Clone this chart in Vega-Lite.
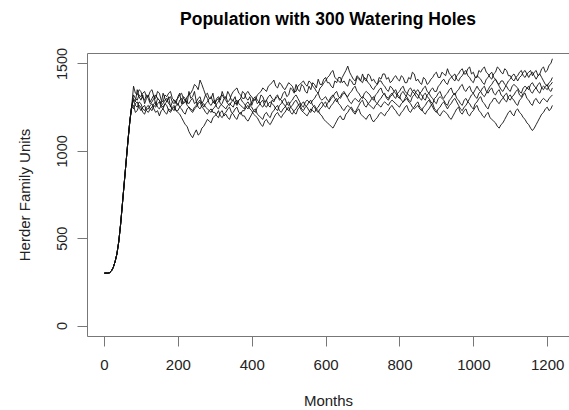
{
"$schema": "https://vega.github.io/schema/vega-lite/v6.json",
"width": 482, "height": 283,
"autosize": "none",
"padding": {"left": 87, "top": 53, "right": 0, "bottom": 74},
"background": "white",
"config": {"view": {"stroke": null}, "font": "Liberation Sans"},
"title": {"text": "Population with 300 Watering Holes", "fontSize": 17.5, "fontWeight": "bold", "font": "Liberation Sans", "color": "#000", "anchor": "middle", "baseline": "bottom", "offset": 27, "dy": 26},
"datasets": {"pop": [
{"s":"A","m":1,"v":300},{"s":"A","m":10,"v":300},{"s":"A","m":15,"v":302},{"s":"A","m":20,"v":312},{"s":"A","m":25,"v":332},{"s":"A","m":30,"v":365},{"s":"A","m":35,"v":410},{"s":"A","m":40,"v":480},{"s":"A","m":45,"v":580},{"s":"A","m":50,"v":700},{"s":"A","m":55,"v":820},{"s":"A","m":60,"v":940},{"s":"A","m":65,"v":1060},{"s":"A","m":70,"v":1170},{"s":"A","m":75,"v":1255},
{"s":"A","m":80,"v":1300},{"s":"A","m":90,"v":1350},{"s":"A","m":100,"v":1290},{"s":"A","m":110,"v":1270},{"s":"A","m":120,"v":1320},{"s":"A","m":130,"v":1300},{"s":"A","m":140,"v":1260},{"s":"A","m":150,"v":1290},{"s":"A","m":160,"v":1330},{"s":"A","m":170,"v":1280},
{"s":"A","m":180,"v":1250},{"s":"A","m":190,"v":1290},{"s":"A","m":200,"v":1310},{"s":"A","m":210,"v":1270},{"s":"A","m":220,"v":1300},{"s":"A","m":230,"v":1340},{"s":"A","m":240,"v":1310},{"s":"A","m":250,"v":1280},{"s":"A","m":260,"v":1310},{"s":"A","m":270,"v":1290},
{"s":"A","m":280,"v":1330},{"s":"A","m":290,"v":1300},{"s":"A","m":300,"v":1270},{"s":"A","m":310,"v":1310},{"s":"A","m":320,"v":1340},{"s":"A","m":330,"v":1300},{"s":"A","m":340,"v":1320},{"s":"A","m":350,"v":1290},{"s":"A","m":360,"v":1260},{"s":"A","m":370,"v":1300},
{"s":"A","m":380,"v":1330},{"s":"A","m":390,"v":1290},{"s":"A","m":400,"v":1260},{"s":"A","m":410,"v":1300},{"s":"A","m":420,"v":1280},{"s":"A","m":430,"v":1310},{"s":"A","m":440,"v":1290},{"s":"A","m":450,"v":1250},{"s":"A","m":460,"v":1280},{"s":"A","m":470,"v":1320},
{"s":"A","m":480,"v":1300},{"s":"A","m":490,"v":1340},{"s":"A","m":500,"v":1320},{"s":"A","m":510,"v":1350},{"s":"A","m":520,"v":1380},{"s":"A","m":530,"v":1340},{"s":"A","m":540,"v":1370},{"s":"A","m":550,"v":1330},{"s":"A","m":560,"v":1350},{"s":"A","m":570,"v":1380},
{"s":"A","m":580,"v":1410},{"s":"A","m":590,"v":1380},{"s":"A","m":600,"v":1420},{"s":"A","m":610,"v":1390},{"s":"A","m":620,"v":1360},{"s":"A","m":630,"v":1390},{"s":"A","m":640,"v":1420},{"s":"A","m":650,"v":1400},{"s":"A","m":660,"v":1370},{"s":"A","m":670,"v":1400},
{"s":"A","m":680,"v":1380},{"s":"A","m":690,"v":1410},{"s":"A","m":700,"v":1440},{"s":"A","m":710,"v":1400},{"s":"A","m":720,"v":1430},{"s":"A","m":730,"v":1410},{"s":"A","m":740,"v":1380},{"s":"A","m":750,"v":1410},{"s":"A","m":760,"v":1440},{"s":"A","m":770,"v":1420},
{"s":"A","m":780,"v":1400},{"s":"A","m":790,"v":1430},{"s":"A","m":800,"v":1400},{"s":"A","m":810,"v":1420},{"s":"A","m":820,"v":1390},{"s":"A","m":830,"v":1410},{"s":"A","m":840,"v":1440},{"s":"A","m":850,"v":1410},{"s":"A","m":860,"v":1380},{"s":"A","m":870,"v":1410},
{"s":"A","m":880,"v":1390},{"s":"A","m":890,"v":1420},{"s":"A","m":900,"v":1450},{"s":"A","m":910,"v":1420},{"s":"A","m":920,"v":1440},{"s":"A","m":930,"v":1470},{"s":"A","m":940,"v":1430},{"s":"A","m":950,"v":1400},{"s":"A","m":960,"v":1440},{"s":"A","m":970,"v":1470},
{"s":"A","m":980,"v":1440},{"s":"A","m":990,"v":1480},{"s":"A","m":1000,"v":1450},{"s":"A","m":1010,"v":1420},{"s":"A","m":1020,"v":1450},{"s":"A","m":1030,"v":1480},{"s":"A","m":1040,"v":1440},{"s":"A","m":1050,"v":1410},{"s":"A","m":1060,"v":1450},{"s":"A","m":1070,"v":1470},
{"s":"A","m":1080,"v":1440},{"s":"A","m":1090,"v":1460},{"s":"A","m":1100,"v":1430},{"s":"A","m":1110,"v":1400},{"s":"A","m":1120,"v":1430},{"s":"A","m":1130,"v":1460},{"s":"A","m":1140,"v":1420},{"s":"A","m":1150,"v":1450},{"s":"A","m":1160,"v":1430},{"s":"A","m":1170,"v":1460},
{"s":"A","m":1180,"v":1440},{"s":"A","m":1190,"v":1480},{"s":"A","m":1200,"v":1460},{"s":"A","m":1210,"v":1500},{"s":"A","m":1214,"v":1527},
{"s":"A","m":85,"v":1280},{"s":"A","m":95,"v":1310},{"s":"A","m":105,"v":1320},{"s":"A","m":115,"v":1300},{"s":"A","m":125,"v":1280},{"s":"A","m":135,"v":1320},{"s":"A","m":145,"v":1300},{"s":"A","m":155,"v":1270},{"s":"A","m":165,"v":1300},{"s":"A","m":175,"v":1310},
{"s":"A","m":185,"v":1280},{"s":"A","m":195,"v":1270},{"s":"A","m":205,"v":1330},{"s":"A","m":215,"v":1310},{"s":"A","m":225,"v":1270},{"s":"A","m":235,"v":1300},{"s":"A","m":245,"v":1340},{"s":"A","m":255,"v":1300},{"s":"A","m":265,"v":1270},{"s":"A","m":275,"v":1320},
{"s":"A","m":285,"v":1300},{"s":"A","m":295,"v":1330},{"s":"A","m":305,"v":1300},{"s":"A","m":315,"v":1290},{"s":"A","m":325,"v":1310},{"s":"A","m":335,"v":1340},{"s":"A","m":345,"v":1290},{"s":"A","m":355,"v":1310},{"s":"A","m":365,"v":1290},{"s":"A","m":375,"v":1340},
{"s":"A","m":385,"v":1300},{"s":"A","m":395,"v":1310},{"s":"A","m":405,"v":1290},{"s":"A","m":415,"v":1270},{"s":"A","m":425,"v":1320},{"s":"A","m":435,"v":1280},{"s":"A","m":445,"v":1260},{"s":"A","m":455,"v":1290},{"s":"A","m":465,"v":1310},{"s":"A","m":475,"v":1290},
{"s":"A","m":485,"v":1330},{"s":"A","m":495,"v":1310},{"s":"A","m":505,"v":1360},{"s":"A","m":515,"v":1330},{"s":"A","m":525,"v":1350},{"s":"A","m":535,"v":1380},{"s":"A","m":545,"v":1340},{"s":"A","m":555,"v":1370},{"s":"A","m":565,"v":1390},{"s":"A","m":575,"v":1360},
{"s":"A","m":585,"v":1380},{"s":"A","m":595,"v":1410},{"s":"A","m":605,"v":1390},{"s":"A","m":615,"v":1370},{"s":"A","m":625,"v":1400},{"s":"A","m":635,"v":1420},{"s":"A","m":645,"v":1390},{"s":"A","m":655,"v":1380},{"s":"A","m":665,"v":1410},{"s":"A","m":675,"v":1380},
{"s":"A","m":685,"v":1420},{"s":"A","m":695,"v":1400},{"s":"A","m":705,"v":1410},{"s":"A","m":715,"v":1440},{"s":"A","m":725,"v":1400},{"s":"A","m":735,"v":1390},{"s":"A","m":745,"v":1420},{"s":"A","m":755,"v":1440},{"s":"A","m":765,"v":1410},{"s":"A","m":775,"v":1390},
{"s":"A","m":785,"v":1420},{"s":"A","m":795,"v":1410},{"s":"A","m":805,"v":1430},{"s":"A","m":815,"v":1390},{"s":"A","m":825,"v":1420},{"s":"A","m":835,"v":1450},{"s":"A","m":845,"v":1400},{"s":"A","m":855,"v":1390},{"s":"A","m":865,"v":1420},{"s":"A","m":875,"v":1380},
{"s":"A","m":885,"v":1410},{"s":"A","m":895,"v":1440},{"s":"A","m":905,"v":1420},{"s":"A","m":915,"v":1450},{"s":"A","m":925,"v":1430},{"s":"A","m":935,"v":1440},{"s":"A","m":945,"v":1410},{"s":"A","m":955,"v":1430},{"s":"A","m":965,"v":1460},{"s":"A","m":975,"v":1440},
{"s":"A","m":985,"v":1470},{"s":"A","m":995,"v":1440},{"s":"A","m":1005,"v":1420},{"s":"A","m":1015,"v":1460},{"s":"A","m":1025,"v":1470},{"s":"A","m":1035,"v":1450},{"s":"A","m":1045,"v":1420},{"s":"A","m":1055,"v":1440},{"s":"A","m":1065,"v":1480},{"s":"A","m":1075,"v":1450},
{"s":"A","m":1085,"v":1470},{"s":"A","m":1095,"v":1430},{"s":"A","m":1105,"v":1410},{"s":"A","m":1115,"v":1420},{"s":"A","m":1125,"v":1450},{"s":"A","m":1135,"v":1430},{"s":"A","m":1145,"v":1440},{"s":"A","m":1155,"v":1460},{"s":"A","m":1165,"v":1450},{"s":"A","m":1175,"v":1430},
{"s":"A","m":1185,"v":1470},{"s":"A","m":1195,"v":1450},{"s":"A","m":1205,"v":1490},

{"s":"B","m":1,"v":300},{"s":"B","m":10,"v":300},{"s":"B","m":15,"v":302},{"s":"B","m":20,"v":312},{"s":"B","m":25,"v":332},{"s":"B","m":30,"v":365},{"s":"B","m":35,"v":410},{"s":"B","m":40,"v":480},{"s":"B","m":45,"v":580},{"s":"B","m":50,"v":700},{"s":"B","m":55,"v":820},{"s":"B","m":60,"v":940},{"s":"B","m":65,"v":1060},{"s":"B","m":70,"v":1170},{"s":"B","m":75,"v":1255},
{"s":"B","m":80,"v":1370},{"s":"B","m":90,"v":1320},{"s":"B","m":100,"v":1340},{"s":"B","m":110,"v":1290},{"s":"B","m":120,"v":1310},{"s":"B","m":130,"v":1350},{"s":"B","m":140,"v":1300},{"s":"B","m":150,"v":1330},{"s":"B","m":160,"v":1280},{"s":"B","m":170,"v":1310},
{"s":"B","m":180,"v":1340},{"s":"B","m":190,"v":1290},{"s":"B","m":200,"v":1260},{"s":"B","m":210,"v":1300},{"s":"B","m":220,"v":1280},{"s":"B","m":230,"v":1320},{"s":"B","m":240,"v":1350},{"s":"B","m":250,"v":1370},{"s":"B","m":260,"v":1405},{"s":"B","m":270,"v":1350},
{"s":"B","m":280,"v":1300},{"s":"B","m":290,"v":1260},{"s":"B","m":300,"v":1290},{"s":"B","m":310,"v":1240},{"s":"B","m":320,"v":1270},{"s":"B","m":330,"v":1310},{"s":"B","m":340,"v":1290},{"s":"B","m":350,"v":1340},{"s":"B","m":360,"v":1360},{"s":"B","m":370,"v":1320},
{"s":"B","m":380,"v":1300},{"s":"B","m":390,"v":1340},{"s":"B","m":400,"v":1310},{"s":"B","m":410,"v":1290},{"s":"B","m":420,"v":1330},{"s":"B","m":430,"v":1360},{"s":"B","m":440,"v":1340},{"s":"B","m":450,"v":1380},{"s":"B","m":460,"v":1405},{"s":"B","m":470,"v":1360},
{"s":"B","m":480,"v":1380},{"s":"B","m":490,"v":1350},{"s":"B","m":500,"v":1390},{"s":"B","m":510,"v":1370},{"s":"B","m":520,"v":1340},{"s":"B","m":530,"v":1380},{"s":"B","m":540,"v":1400},{"s":"B","m":550,"v":1370},{"s":"B","m":560,"v":1390},{"s":"B","m":570,"v":1360},
{"s":"B","m":580,"v":1330},{"s":"B","m":590,"v":1370},{"s":"B","m":600,"v":1400},{"s":"B","m":610,"v":1430},{"s":"B","m":620,"v":1460},{"s":"B","m":630,"v":1410},{"s":"B","m":640,"v":1390},{"s":"B","m":650,"v":1440},{"s":"B","m":660,"v":1485},{"s":"B","m":670,"v":1430},
{"s":"B","m":680,"v":1400},{"s":"B","m":690,"v":1420},{"s":"B","m":700,"v":1390},{"s":"B","m":710,"v":1410},{"s":"B","m":720,"v":1380},{"s":"B","m":730,"v":1350},{"s":"B","m":740,"v":1380},{"s":"B","m":750,"v":1400},{"s":"B","m":760,"v":1370},{"s":"B","m":770,"v":1340},
{"s":"B","m":780,"v":1360},{"s":"B","m":790,"v":1330},{"s":"B","m":800,"v":1300},{"s":"B","m":810,"v":1340},{"s":"B","m":820,"v":1310},{"s":"B","m":830,"v":1280},{"s":"B","m":840,"v":1320},{"s":"B","m":850,"v":1350},{"s":"B","m":860,"v":1320},{"s":"B","m":870,"v":1290},
{"s":"B","m":880,"v":1330},{"s":"B","m":890,"v":1360},{"s":"B","m":900,"v":1340},{"s":"B","m":910,"v":1380},{"s":"B","m":920,"v":1410},{"s":"B","m":930,"v":1380},{"s":"B","m":940,"v":1420},{"s":"B","m":950,"v":1440},{"s":"B","m":960,"v":1400},{"s":"B","m":970,"v":1430},
{"s":"B","m":980,"v":1460},{"s":"B","m":990,"v":1420},{"s":"B","m":1000,"v":1390},{"s":"B","m":1010,"v":1430},{"s":"B","m":1020,"v":1410},{"s":"B","m":1030,"v":1380},{"s":"B","m":1040,"v":1420},{"s":"B","m":1050,"v":1450},{"s":"B","m":1060,"v":1410},{"s":"B","m":1070,"v":1380},
{"s":"B","m":1080,"v":1400},{"s":"B","m":1090,"v":1370},{"s":"B","m":1100,"v":1340},{"s":"B","m":1110,"v":1380},{"s":"B","m":1120,"v":1360},{"s":"B","m":1130,"v":1330},{"s":"B","m":1140,"v":1370},{"s":"B","m":1150,"v":1350},{"s":"B","m":1160,"v":1390},{"s":"B","m":1170,"v":1360},
{"s":"B","m":1180,"v":1330},{"s":"B","m":1190,"v":1370},{"s":"B","m":1200,"v":1350},{"s":"B","m":1210,"v":1380},{"s":"B","m":1214,"v":1393},
{"s":"B","m":85,"v":1330},{"s":"B","m":95,"v":1350},{"s":"B","m":105,"v":1300},{"s":"B","m":115,"v":1320},{"s":"B","m":125,"v":1340},{"s":"B","m":135,"v":1310},{"s":"B","m":145,"v":1340},{"s":"B","m":155,"v":1290},{"s":"B","m":165,"v":1320},{"s":"B","m":175,"v":1330},
{"s":"B","m":185,"v":1300},{"s":"B","m":195,"v":1280},{"s":"B","m":205,"v":1290},{"s":"B","m":215,"v":1270},{"s":"B","m":225,"v":1310},{"s":"B","m":235,"v":1330},{"s":"B","m":245,"v":1380},{"s":"B","m":255,"v":1350},{"s":"B","m":265,"v":1380},{"s":"B","m":275,"v":1320},
{"s":"B","m":285,"v":1270},{"s":"B","m":295,"v":1280},{"s":"B","m":305,"v":1250},{"s":"B","m":315,"v":1260},{"s":"B","m":325,"v":1300},{"s":"B","m":335,"v":1280},{"s":"B","m":345,"v":1320},{"s":"B","m":355,"v":1350},{"s":"B","m":365,"v":1330},{"s":"B","m":375,"v":1300},
{"s":"B","m":385,"v":1330},{"s":"B","m":395,"v":1320},{"s":"B","m":405,"v":1290},{"s":"B","m":415,"v":1320},{"s":"B","m":425,"v":1340},{"s":"B","m":435,"v":1350},{"s":"B","m":445,"v":1370},{"s":"B","m":455,"v":1390},{"s":"B","m":465,"v":1370},{"s":"B","m":475,"v":1390},
{"s":"B","m":485,"v":1360},{"s":"B","m":495,"v":1370},{"s":"B","m":505,"v":1380},{"s":"B","m":515,"v":1340},{"s":"B","m":525,"v":1370},{"s":"B","m":535,"v":1390},{"s":"B","m":545,"v":1380},{"s":"B","m":555,"v":1400},{"s":"B","m":565,"v":1370},{"s":"B","m":575,"v":1340},
{"s":"B","m":585,"v":1360},{"s":"B","m":595,"v":1390},{"s":"B","m":605,"v":1420},{"s":"B","m":615,"v":1450},{"s":"B","m":625,"v":1420},{"s":"B","m":635,"v":1400},{"s":"B","m":645,"v":1420},{"s":"B","m":655,"v":1460},{"s":"B","m":665,"v":1450},{"s":"B","m":675,"v":1410},
{"s":"B","m":685,"v":1430},{"s":"B","m":695,"v":1400},{"s":"B","m":705,"v":1420},{"s":"B","m":715,"v":1390},{"s":"B","m":725,"v":1360},{"s":"B","m":735,"v":1370},{"s":"B","m":745,"v":1400},{"s":"B","m":755,"v":1380},{"s":"B","m":765,"v":1350},{"s":"B","m":775,"v":1370},
{"s":"B","m":785,"v":1340},{"s":"B","m":795,"v":1310},{"s":"B","m":805,"v":1330},{"s":"B","m":815,"v":1320},{"s":"B","m":825,"v":1290},{"s":"B","m":835,"v":1310},{"s":"B","m":845,"v":1340},{"s":"B","m":855,"v":1330},{"s":"B","m":865,"v":1300},{"s":"B","m":875,"v":1320},
{"s":"B","m":885,"v":1350},{"s":"B","m":895,"v":1340},{"s":"B","m":905,"v":1370},{"s":"B","m":915,"v":1400},{"s":"B","m":925,"v":1390},{"s":"B","m":935,"v":1410},{"s":"B","m":945,"v":1430},{"s":"B","m":955,"v":1410},{"s":"B","m":965,"v":1420},{"s":"B","m":975,"v":1450},
{"s":"B","m":985,"v":1430},{"s":"B","m":995,"v":1400},{"s":"B","m":1005,"v":1420},{"s":"B","m":1015,"v":1420},{"s":"B","m":1025,"v":1390},{"s":"B","m":1035,"v":1410},{"s":"B","m":1045,"v":1440},{"s":"B","m":1055,"v":1420},{"s":"B","m":1065,"v":1390},{"s":"B","m":1075,"v":1400},
{"s":"B","m":1085,"v":1380},{"s":"B","m":1095,"v":1350},{"s":"B","m":1105,"v":1370},{"s":"B","m":1115,"v":1370},{"s":"B","m":1125,"v":1340},{"s":"B","m":1135,"v":1360},{"s":"B","m":1145,"v":1360},{"s":"B","m":1155,"v":1380},{"s":"B","m":1165,"v":1370},{"s":"B","m":1175,"v":1340},
{"s":"B","m":1185,"v":1360},{"s":"B","m":1195,"v":1360},{"s":"B","m":1205,"v":1370},

{"s":"C","m":1,"v":300},{"s":"C","m":10,"v":300},{"s":"C","m":15,"v":302},{"s":"C","m":20,"v":312},{"s":"C","m":25,"v":332},{"s":"C","m":30,"v":365},{"s":"C","m":35,"v":410},{"s":"C","m":40,"v":480},{"s":"C","m":45,"v":580},{"s":"C","m":50,"v":700},{"s":"C","m":55,"v":820},{"s":"C","m":60,"v":940},{"s":"C","m":65,"v":1060},{"s":"C","m":70,"v":1170},{"s":"C","m":75,"v":1255},
{"s":"C","m":80,"v":1260},{"s":"C","m":90,"v":1230},{"s":"C","m":100,"v":1250},{"s":"C","m":110,"v":1210},{"s":"C","m":120,"v":1240},{"s":"C","m":130,"v":1270},{"s":"C","m":140,"v":1220},{"s":"C","m":150,"v":1200},{"s":"C","m":160,"v":1240},{"s":"C","m":170,"v":1210},
{"s":"C","m":180,"v":1230},{"s":"C","m":190,"v":1260},{"s":"C","m":200,"v":1220},{"s":"C","m":210,"v":1190},{"s":"C","m":220,"v":1150},{"s":"C","m":230,"v":1110},{"s":"C","m":240,"v":1075},{"s":"C","m":250,"v":1120},{"s":"C","m":260,"v":1100},{"s":"C","m":270,"v":1140},
{"s":"C","m":280,"v":1180},{"s":"C","m":290,"v":1160},{"s":"C","m":300,"v":1200},{"s":"C","m":310,"v":1230},{"s":"C","m":320,"v":1190},{"s":"C","m":330,"v":1220},{"s":"C","m":340,"v":1250},{"s":"C","m":350,"v":1210},{"s":"C","m":360,"v":1180},{"s":"C","m":370,"v":1220},
{"s":"C","m":380,"v":1200},{"s":"C","m":390,"v":1170},{"s":"C","m":400,"v":1210},{"s":"C","m":410,"v":1240},{"s":"C","m":420,"v":1200},{"s":"C","m":430,"v":1180},{"s":"C","m":440,"v":1220},{"s":"C","m":450,"v":1190},{"s":"C","m":460,"v":1230},{"s":"C","m":470,"v":1260},
{"s":"C","m":480,"v":1220},{"s":"C","m":490,"v":1250},{"s":"C","m":500,"v":1280},{"s":"C","m":510,"v":1240},{"s":"C","m":520,"v":1210},{"s":"C","m":530,"v":1250},{"s":"C","m":540,"v":1280},{"s":"C","m":550,"v":1250},{"s":"C","m":560,"v":1220},{"s":"C","m":570,"v":1260},
{"s":"C","m":580,"v":1230},{"s":"C","m":590,"v":1200},{"s":"C","m":600,"v":1170},{"s":"C","m":610,"v":1150},{"s":"C","m":620,"v":1130},{"s":"C","m":630,"v":1170},{"s":"C","m":640,"v":1200},{"s":"C","m":650,"v":1180},{"s":"C","m":660,"v":1220},{"s":"C","m":670,"v":1250},
{"s":"C","m":680,"v":1220},{"s":"C","m":690,"v":1260},{"s":"C","m":700,"v":1290},{"s":"C","m":710,"v":1250},{"s":"C","m":720,"v":1280},{"s":"C","m":730,"v":1310},{"s":"C","m":740,"v":1270},{"s":"C","m":750,"v":1300},{"s":"C","m":760,"v":1330},{"s":"C","m":770,"v":1290},
{"s":"C","m":780,"v":1320},{"s":"C","m":790,"v":1350},{"s":"C","m":800,"v":1310},{"s":"C","m":810,"v":1280},{"s":"C","m":820,"v":1320},{"s":"C","m":830,"v":1360},{"s":"C","m":840,"v":1330},{"s":"C","m":850,"v":1300},{"s":"C","m":860,"v":1340},{"s":"C","m":870,"v":1370},
{"s":"C","m":880,"v":1330},{"s":"C","m":890,"v":1300},{"s":"C","m":900,"v":1270},{"s":"C","m":910,"v":1310},{"s":"C","m":920,"v":1290},{"s":"C","m":930,"v":1260},{"s":"C","m":940,"v":1300},{"s":"C","m":950,"v":1330},{"s":"C","m":960,"v":1290},{"s":"C","m":970,"v":1260},
{"s":"C","m":980,"v":1300},{"s":"C","m":990,"v":1270},{"s":"C","m":1000,"v":1240},{"s":"C","m":1010,"v":1280},{"s":"C","m":1020,"v":1310},{"s":"C","m":1030,"v":1270},{"s":"C","m":1040,"v":1240},{"s":"C","m":1050,"v":1280},{"s":"C","m":1060,"v":1300},{"s":"C","m":1070,"v":1270},
{"s":"C","m":1080,"v":1300},{"s":"C","m":1090,"v":1330},{"s":"C","m":1100,"v":1290},{"s":"C","m":1110,"v":1320},{"s":"C","m":1120,"v":1350},{"s":"C","m":1130,"v":1310},{"s":"C","m":1140,"v":1340},{"s":"C","m":1150,"v":1370},{"s":"C","m":1160,"v":1330},{"s":"C","m":1170,"v":1360},
{"s":"C","m":1180,"v":1390},{"s":"C","m":1190,"v":1350},{"s":"C","m":1200,"v":1380},{"s":"C","m":1210,"v":1340},{"s":"C","m":1214,"v":1360},
{"s":"C","m":85,"v":1220},{"s":"C","m":95,"v":1260},{"s":"C","m":105,"v":1220},{"s":"C","m":115,"v":1240},{"s":"C","m":125,"v":1260},{"s":"C","m":135,"v":1240},{"s":"C","m":145,"v":1230},{"s":"C","m":155,"v":1230},{"s":"C","m":165,"v":1220},{"s":"C","m":175,"v":1240},
{"s":"C","m":185,"v":1250},{"s":"C","m":195,"v":1230},{"s":"C","m":205,"v":1210},{"s":"C","m":215,"v":1170},{"s":"C","m":225,"v":1140},{"s":"C","m":235,"v":1090},{"s":"C","m":245,"v":1100},{"s":"C","m":255,"v":1090},{"s":"C","m":265,"v":1130},{"s":"C","m":275,"v":1160},
{"s":"C","m":285,"v":1170},{"s":"C","m":295,"v":1190},{"s":"C","m":305,"v":1210},{"s":"C","m":315,"v":1200},{"s":"C","m":325,"v":1210},{"s":"C","m":335,"v":1240},{"s":"C","m":345,"v":1220},{"s":"C","m":355,"v":1190},{"s":"C","m":365,"v":1210},{"s":"C","m":375,"v":1200},
{"s":"C","m":385,"v":1180},{"s":"C","m":395,"v":1190},{"s":"C","m":405,"v":1230},{"s":"C","m":415,"v":1210},{"s":"C","m":425,"v":1190},{"s":"C","m":435,"v":1210},{"s":"C","m":445,"v":1200},{"s":"C","m":455,"v":1220},{"s":"C","m":465,"v":1250},{"s":"C","m":475,"v":1230},
{"s":"C","m":485,"v":1240},{"s":"C","m":495,"v":1270},{"s":"C","m":505,"v":1250},{"s":"C","m":515,"v":1220},{"s":"C","m":525,"v":1240},{"s":"C","m":535,"v":1270},{"s":"C","m":545,"v":1260},{"s":"C","m":555,"v":1230},{"s":"C","m":565,"v":1250},{"s":"C","m":575,"v":1240},
{"s":"C","m":585,"v":1210},{"s":"C","m":595,"v":1180},{"s":"C","m":605,"v":1160},{"s":"C","m":615,"v":1140},{"s":"C","m":625,"v":1150},{"s":"C","m":635,"v":1190},{"s":"C","m":645,"v":1180},{"s":"C","m":655,"v":1210},{"s":"C","m":665,"v":1240},{"s":"C","m":675,"v":1230},
{"s":"C","m":685,"v":1240},{"s":"C","m":695,"v":1280},{"s":"C","m":705,"v":1260},{"s":"C","m":715,"v":1270},{"s":"C","m":725,"v":1300},{"s":"C","m":735,"v":1280},{"s":"C","m":745,"v":1290},{"s":"C","m":755,"v":1320},{"s":"C","m":765,"v":1300},{"s":"C","m":775,"v":1310},
{"s":"C","m":785,"v":1340},{"s":"C","m":795,"v":1320},{"s":"C","m":805,"v":1290},{"s":"C","m":815,"v":1300},{"s":"C","m":825,"v":1350},{"s":"C","m":835,"v":1340},{"s":"C","m":845,"v":1310},{"s":"C","m":855,"v":1330},{"s":"C","m":865,"v":1360},{"s":"C","m":875,"v":1340},
{"s":"C","m":885,"v":1310},{"s":"C","m":895,"v":1280},{"s":"C","m":905,"v":1300},{"s":"C","m":915,"v":1300},{"s":"C","m":925,"v":1270},{"s":"C","m":935,"v":1290},{"s":"C","m":945,"v":1320},{"s":"C","m":955,"v":1300},{"s":"C","m":965,"v":1270},{"s":"C","m":975,"v":1290},
{"s":"C","m":985,"v":1280},{"s":"C","m":995,"v":1250},{"s":"C","m":1005,"v":1270},{"s":"C","m":1015,"v":1300},{"s":"C","m":1025,"v":1280},{"s":"C","m":1035,"v":1250},{"s":"C","m":1045,"v":1270},{"s":"C","m":1055,"v":1300},{"s":"C","m":1065,"v":1280},{"s":"C","m":1075,"v":1290},
{"s":"C","m":1085,"v":1320},{"s":"C","m":1095,"v":1300},{"s":"C","m":1105,"v":1310},{"s":"C","m":1115,"v":1340},{"s":"C","m":1125,"v":1320},{"s":"C","m":1135,"v":1330},{"s":"C","m":1145,"v":1360},{"s":"C","m":1155,"v":1340},{"s":"C","m":1165,"v":1350},{"s":"C","m":1175,"v":1380},
{"s":"C","m":1185,"v":1360},{"s":"C","m":1195,"v":1370},{"s":"C","m":1205,"v":1350},

{"s":"D","m":1,"v":300},{"s":"D","m":10,"v":300},{"s":"D","m":15,"v":302},{"s":"D","m":20,"v":312},{"s":"D","m":25,"v":332},{"s":"D","m":30,"v":365},{"s":"D","m":35,"v":410},{"s":"D","m":40,"v":480},{"s":"D","m":45,"v":580},{"s":"D","m":50,"v":700},{"s":"D","m":55,"v":820},{"s":"D","m":60,"v":940},{"s":"D","m":65,"v":1060},{"s":"D","m":70,"v":1170},{"s":"D","m":75,"v":1255},
{"s":"D","m":80,"v":1290},{"s":"D","m":90,"v":1250},{"s":"D","m":100,"v":1270},{"s":"D","m":110,"v":1230},{"s":"D","m":120,"v":1260},{"s":"D","m":130,"v":1230},{"s":"D","m":140,"v":1250},{"s":"D","m":150,"v":1280},{"s":"D","m":160,"v":1240},{"s":"D","m":170,"v":1260},
{"s":"D","m":180,"v":1220},{"s":"D","m":190,"v":1250},{"s":"D","m":200,"v":1230},{"s":"D","m":210,"v":1260},{"s":"D","m":220,"v":1290},{"s":"D","m":230,"v":1250},{"s":"D","m":240,"v":1220},{"s":"D","m":250,"v":1250},{"s":"D","m":260,"v":1280},{"s":"D","m":270,"v":1240},
{"s":"D","m":280,"v":1210},{"s":"D","m":290,"v":1240},{"s":"D","m":300,"v":1220},{"s":"D","m":310,"v":1190},{"s":"D","m":320,"v":1230},{"s":"D","m":330,"v":1210},{"s":"D","m":340,"v":1180},{"s":"D","m":350,"v":1220},{"s":"D","m":360,"v":1250},{"s":"D","m":370,"v":1210},
{"s":"D","m":380,"v":1230},{"s":"D","m":390,"v":1260},{"s":"D","m":400,"v":1230},{"s":"D","m":410,"v":1200},{"s":"D","m":420,"v":1170},{"s":"D","m":430,"v":1140},{"s":"D","m":440,"v":1180},{"s":"D","m":450,"v":1150},{"s":"D","m":460,"v":1190},{"s":"D","m":470,"v":1220},
{"s":"D","m":480,"v":1190},{"s":"D","m":490,"v":1220},{"s":"D","m":500,"v":1250},{"s":"D","m":510,"v":1210},{"s":"D","m":520,"v":1240},{"s":"D","m":530,"v":1270},{"s":"D","m":540,"v":1230},{"s":"D","m":550,"v":1260},{"s":"D","m":560,"v":1290},{"s":"D","m":570,"v":1250},
{"s":"D","m":580,"v":1220},{"s":"D","m":590,"v":1250},{"s":"D","m":600,"v":1280},{"s":"D","m":610,"v":1240},{"s":"D","m":620,"v":1270},{"s":"D","m":630,"v":1300},{"s":"D","m":640,"v":1260},{"s":"D","m":650,"v":1230},{"s":"D","m":660,"v":1260},{"s":"D","m":670,"v":1240},
{"s":"D","m":680,"v":1210},{"s":"D","m":690,"v":1240},{"s":"D","m":700,"v":1200},{"s":"D","m":710,"v":1180},{"s":"D","m":720,"v":1210},{"s":"D","m":730,"v":1165},{"s":"D","m":740,"v":1190},{"s":"D","m":750,"v":1220},{"s":"D","m":760,"v":1200},{"s":"D","m":770,"v":1230},
{"s":"D","m":780,"v":1260},{"s":"D","m":790,"v":1230},{"s":"D","m":800,"v":1200},{"s":"D","m":810,"v":1230},{"s":"D","m":820,"v":1260},{"s":"D","m":830,"v":1220},{"s":"D","m":840,"v":1250},{"s":"D","m":850,"v":1280},{"s":"D","m":860,"v":1240},{"s":"D","m":870,"v":1210},
{"s":"D","m":880,"v":1240},{"s":"D","m":890,"v":1270},{"s":"D","m":900,"v":1230},{"s":"D","m":910,"v":1200},{"s":"D","m":920,"v":1230},{"s":"D","m":930,"v":1210},{"s":"D","m":940,"v":1180},{"s":"D","m":950,"v":1220},{"s":"D","m":960,"v":1250},{"s":"D","m":970,"v":1210},
{"s":"D","m":980,"v":1240},{"s":"D","m":990,"v":1200},{"s":"D","m":1000,"v":1230},{"s":"D","m":1010,"v":1260},{"s":"D","m":1020,"v":1220},{"s":"D","m":1030,"v":1190},{"s":"D","m":1040,"v":1220},{"s":"D","m":1050,"v":1180},{"s":"D","m":1060,"v":1160},{"s":"D","m":1070,"v":1130},
{"s":"D","m":1080,"v":1160},{"s":"D","m":1090,"v":1200},{"s":"D","m":1100,"v":1230},{"s":"D","m":1110,"v":1200},{"s":"D","m":1120,"v":1240},{"s":"D","m":1130,"v":1210},{"s":"D","m":1140,"v":1180},{"s":"D","m":1150,"v":1150},{"s":"D","m":1160,"v":1116},{"s":"D","m":1170,"v":1150},
{"s":"D","m":1180,"v":1190},{"s":"D","m":1190,"v":1220},{"s":"D","m":1200,"v":1250},{"s":"D","m":1210,"v":1240},{"s":"D","m":1214,"v":1260},
{"s":"D","m":85,"v":1260},{"s":"D","m":95,"v":1280},{"s":"D","m":105,"v":1240},{"s":"D","m":115,"v":1250},{"s":"D","m":125,"v":1240},{"s":"D","m":135,"v":1260},{"s":"D","m":145,"v":1270},{"s":"D","m":155,"v":1250},{"s":"D","m":165,"v":1270},{"s":"D","m":175,"v":1230},
{"s":"D","m":185,"v":1240},{"s":"D","m":195,"v":1230},{"s":"D","m":205,"v":1250},{"s":"D","m":215,"v":1280},{"s":"D","m":225,"v":1260},{"s":"D","m":235,"v":1230},{"s":"D","m":245,"v":1240},{"s":"D","m":255,"v":1270},{"s":"D","m":265,"v":1250},{"s":"D","m":275,"v":1220},
{"s":"D","m":285,"v":1230},{"s":"D","m":295,"v":1220},{"s":"D","m":305,"v":1200},{"s":"D","m":315,"v":1220},{"s":"D","m":325,"v":1200},{"s":"D","m":335,"v":1190},{"s":"D","m":345,"v":1210},{"s":"D","m":355,"v":1240},{"s":"D","m":365,"v":1220},{"s":"D","m":375,"v":1230},
{"s":"D","m":385,"v":1250},{"s":"D","m":395,"v":1240},{"s":"D","m":405,"v":1210},{"s":"D","m":415,"v":1190},{"s":"D","m":425,"v":1150},{"s":"D","m":435,"v":1170},{"s":"D","m":445,"v":1160},{"s":"D","m":455,"v":1170},{"s":"D","m":465,"v":1210},{"s":"D","m":475,"v":1200},
{"s":"D","m":485,"v":1210},{"s":"D","m":495,"v":1240},{"s":"D","m":505,"v":1220},{"s":"D","m":515,"v":1230},{"s":"D","m":525,"v":1260},{"s":"D","m":535,"v":1240},{"s":"D","m":545,"v":1250},{"s":"D","m":555,"v":1280},{"s":"D","m":565,"v":1260},{"s":"D","m":575,"v":1230},
{"s":"D","m":585,"v":1240},{"s":"D","m":595,"v":1270},{"s":"D","m":605,"v":1250},{"s":"D","m":615,"v":1260},{"s":"D","m":625,"v":1290},{"s":"D","m":635,"v":1270},{"s":"D","m":645,"v":1240},{"s":"D","m":655,"v":1250},{"s":"D","m":665,"v":1250},{"s":"D","m":675,"v":1220},
{"s":"D","m":685,"v":1230},{"s":"D","m":695,"v":1210},{"s":"D","m":705,"v":1190},{"s":"D","m":715,"v":1200},{"s":"D","m":725,"v":1180},{"s":"D","m":735,"v":1180},{"s":"D","m":745,"v":1210},{"s":"D","m":755,"v":1210},{"s":"D","m":765,"v":1220},{"s":"D","m":775,"v":1250},
{"s":"D","m":785,"v":1240},{"s":"D","m":795,"v":1210},{"s":"D","m":805,"v":1220},{"s":"D","m":815,"v":1250},{"s":"D","m":825,"v":1230},{"s":"D","m":835,"v":1240},{"s":"D","m":845,"v":1270},{"s":"D","m":855,"v":1250},{"s":"D","m":865,"v":1220},{"s":"D","m":875,"v":1230},
{"s":"D","m":885,"v":1260},{"s":"D","m":895,"v":1240},{"s":"D","m":905,"v":1210},{"s":"D","m":915,"v":1220},{"s":"D","m":925,"v":1220},{"s":"D","m":935,"v":1190},{"s":"D","m":945,"v":1200},{"s":"D","m":955,"v":1240},{"s":"D","m":965,"v":1220},{"s":"D","m":975,"v":1230},
{"s":"D","m":985,"v":1210},{"s":"D","m":995,"v":1220},{"s":"D","m":1005,"v":1250},{"s":"D","m":1015,"v":1230},{"s":"D","m":1025,"v":1200},{"s":"D","m":1035,"v":1210},{"s":"D","m":1045,"v":1190},{"s":"D","m":1055,"v":1170},{"s":"D","m":1065,"v":1140},{"s":"D","m":1075,"v":1150},
{"s":"D","m":1085,"v":1180},{"s":"D","m":1095,"v":1220},{"s":"D","m":1105,"v":1210},{"s":"D","m":1115,"v":1230},{"s":"D","m":1125,"v":1220},{"s":"D","m":1135,"v":1190},{"s":"D","m":1145,"v":1160},{"s":"D","m":1155,"v":1130},{"s":"D","m":1165,"v":1130},{"s":"D","m":1175,"v":1170},
{"s":"D","m":1185,"v":1210},{"s":"D","m":1195,"v":1240},{"s":"D","m":1205,"v":1230},

{"s":"E","m":1,"v":300},{"s":"E","m":10,"v":300},{"s":"E","m":15,"v":302},{"s":"E","m":20,"v":312},{"s":"E","m":25,"v":332},{"s":"E","m":30,"v":365},{"s":"E","m":35,"v":410},{"s":"E","m":40,"v":480},{"s":"E","m":45,"v":580},{"s":"E","m":50,"v":700},{"s":"E","m":55,"v":820},{"s":"E","m":60,"v":940},{"s":"E","m":65,"v":1060},{"s":"E","m":70,"v":1170},{"s":"E","m":75,"v":1255},
{"s":"E","m":80,"v":1240},{"s":"E","m":90,"v":1280},{"s":"E","m":100,"v":1230},{"s":"E","m":110,"v":1260},{"s":"E","m":120,"v":1220},{"s":"E","m":130,"v":1250},{"s":"E","m":140,"v":1280},{"s":"E","m":150,"v":1240},{"s":"E","m":160,"v":1270},{"s":"E","m":170,"v":1300},
{"s":"E","m":180,"v":1260},{"s":"E","m":190,"v":1230},{"s":"E","m":200,"v":1270},{"s":"E","m":210,"v":1240},{"s":"E","m":220,"v":1210},{"s":"E","m":230,"v":1250},{"s":"E","m":240,"v":1230},{"s":"E","m":250,"v":1260},{"s":"E","m":260,"v":1290},{"s":"E","m":270,"v":1250},
{"s":"E","m":280,"v":1280},{"s":"E","m":290,"v":1310},{"s":"E","m":300,"v":1270},{"s":"E","m":310,"v":1300},{"s":"E","m":320,"v":1260},{"s":"E","m":330,"v":1240},{"s":"E","m":340,"v":1270},{"s":"E","m":350,"v":1250},{"s":"E","m":360,"v":1290},{"s":"E","m":370,"v":1260},
{"s":"E","m":380,"v":1240},{"s":"E","m":390,"v":1280},{"s":"E","m":400,"v":1250},{"s":"E","m":410,"v":1220},{"s":"E","m":420,"v":1260},{"s":"E","m":430,"v":1290},{"s":"E","m":440,"v":1250},{"s":"E","m":450,"v":1280},{"s":"E","m":460,"v":1260},{"s":"E","m":470,"v":1230},
{"s":"E","m":480,"v":1270},{"s":"E","m":490,"v":1300},{"s":"E","m":500,"v":1260},{"s":"E","m":510,"v":1290},{"s":"E","m":520,"v":1320},{"s":"E","m":530,"v":1280},{"s":"E","m":540,"v":1250},{"s":"E","m":550,"v":1290},{"s":"E","m":560,"v":1270},{"s":"E","m":570,"v":1300},
{"s":"E","m":580,"v":1330},{"s":"E","m":590,"v":1290},{"s":"E","m":600,"v":1310},{"s":"E","m":610,"v":1280},{"s":"E","m":620,"v":1310},{"s":"E","m":630,"v":1340},{"s":"E","m":640,"v":1300},{"s":"E","m":650,"v":1330},{"s":"E","m":660,"v":1310},{"s":"E","m":670,"v":1340},
{"s":"E","m":680,"v":1370},{"s":"E","m":690,"v":1330},{"s":"E","m":700,"v":1300},{"s":"E","m":710,"v":1340},{"s":"E","m":720,"v":1320},{"s":"E","m":730,"v":1290},{"s":"E","m":740,"v":1330},{"s":"E","m":750,"v":1360},{"s":"E","m":760,"v":1320},{"s":"E","m":770,"v":1300},
{"s":"E","m":780,"v":1330},{"s":"E","m":790,"v":1300},{"s":"E","m":800,"v":1340},{"s":"E","m":810,"v":1370},{"s":"E","m":820,"v":1330},{"s":"E","m":830,"v":1310},{"s":"E","m":840,"v":1350},{"s":"E","m":850,"v":1320},{"s":"E","m":860,"v":1290},{"s":"E","m":870,"v":1330},
{"s":"E","m":880,"v":1300},{"s":"E","m":890,"v":1270},{"s":"E","m":900,"v":1310},{"s":"E","m":910,"v":1340},{"s":"E","m":920,"v":1300},{"s":"E","m":930,"v":1330},{"s":"E","m":940,"v":1360},{"s":"E","m":950,"v":1320},{"s":"E","m":960,"v":1350},{"s":"E","m":970,"v":1380},
{"s":"E","m":980,"v":1340},{"s":"E","m":990,"v":1370},{"s":"E","m":1000,"v":1330},{"s":"E","m":1010,"v":1300},{"s":"E","m":1020,"v":1340},{"s":"E","m":1030,"v":1370},{"s":"E","m":1040,"v":1330},{"s":"E","m":1050,"v":1360},{"s":"E","m":1060,"v":1320},{"s":"E","m":1070,"v":1350},
{"s":"E","m":1080,"v":1310},{"s":"E","m":1090,"v":1280},{"s":"E","m":1100,"v":1320},{"s":"E","m":1110,"v":1290},{"s":"E","m":1120,"v":1260},{"s":"E","m":1130,"v":1300},{"s":"E","m":1140,"v":1330},{"s":"E","m":1150,"v":1290},{"s":"E","m":1160,"v":1260},{"s":"E","m":1170,"v":1300},
{"s":"E","m":1180,"v":1270},{"s":"E","m":1190,"v":1300},{"s":"E","m":1200,"v":1280},{"s":"E","m":1210,"v":1310},{"s":"E","m":1214,"v":1320},
{"s":"E","m":85,"v":1270},{"s":"E","m":95,"v":1250},{"s":"E","m":105,"v":1250},{"s":"E","m":115,"v":1230},{"s":"E","m":125,"v":1240},{"s":"E","m":135,"v":1270},{"s":"E","m":145,"v":1250},{"s":"E","m":155,"v":1260},{"s":"E","m":165,"v":1290},{"s":"E","m":175,"v":1270},
{"s":"E","m":185,"v":1240},{"s":"E","m":195,"v":1260},{"s":"E","m":205,"v":1250},{"s":"E","m":215,"v":1220},{"s":"E","m":225,"v":1240},{"s":"E","m":235,"v":1240},{"s":"E","m":245,"v":1250},{"s":"E","m":255,"v":1280},{"s":"E","m":265,"v":1270},{"s":"E","m":275,"v":1270},
{"s":"E","m":285,"v":1300},{"s":"E","m":295,"v":1280},{"s":"E","m":305,"v":1290},{"s":"E","m":315,"v":1270},{"s":"E","m":325,"v":1250},{"s":"E","m":335,"v":1260},{"s":"E","m":345,"v":1260},{"s":"E","m":355,"v":1280},{"s":"E","m":365,"v":1270},{"s":"E","m":375,"v":1250},
{"s":"E","m":385,"v":1270},{"s":"E","m":395,"v":1260},{"s":"E","m":405,"v":1230},{"s":"E","m":415,"v":1250},{"s":"E","m":425,"v":1280},{"s":"E","m":435,"v":1260},{"s":"E","m":445,"v":1270},{"s":"E","m":455,"v":1270},{"s":"E","m":465,"v":1240},{"s":"E","m":475,"v":1260},
{"s":"E","m":485,"v":1290},{"s":"E","m":495,"v":1270},{"s":"E","m":505,"v":1280},{"s":"E","m":515,"v":1310},{"s":"E","m":525,"v":1300},{"s":"E","m":535,"v":1260},{"s":"E","m":545,"v":1280},{"s":"E","m":555,"v":1280},{"s":"E","m":565,"v":1290},{"s":"E","m":575,"v":1320},
{"s":"E","m":585,"v":1300},{"s":"E","m":595,"v":1300},{"s":"E","m":605,"v":1290},{"s":"E","m":615,"v":1300},{"s":"E","m":625,"v":1330},{"s":"E","m":635,"v":1310},{"s":"E","m":645,"v":1320},{"s":"E","m":655,"v":1320},{"s":"E","m":665,"v":1330},{"s":"E","m":675,"v":1360},
{"s":"E","m":685,"v":1340},{"s":"E","m":695,"v":1310},{"s":"E","m":705,"v":1330},{"s":"E","m":715,"v":1330},{"s":"E","m":725,"v":1300},{"s":"E","m":735,"v":1320},{"s":"E","m":745,"v":1350},{"s":"E","m":755,"v":1330},{"s":"E","m":765,"v":1310},{"s":"E","m":775,"v":1320},
{"s":"E","m":785,"v":1310},{"s":"E","m":795,"v":1330},{"s":"E","m":805,"v":1360},{"s":"E","m":815,"v":1340},{"s":"E","m":825,"v":1320},{"s":"E","m":835,"v":1340},{"s":"E","m":845,"v":1330},{"s":"E","m":855,"v":1300},{"s":"E","m":865,"v":1320},{"s":"E","m":875,"v":1310},
{"s":"E","m":885,"v":1280},{"s":"E","m":895,"v":1300},{"s":"E","m":905,"v":1330},{"s":"E","m":915,"v":1310},{"s":"E","m":925,"v":1320},{"s":"E","m":935,"v":1350},{"s":"E","m":945,"v":1330},{"s":"E","m":955,"v":1340},{"s":"E","m":965,"v":1370},{"s":"E","m":975,"v":1350},
{"s":"E","m":985,"v":1360},{"s":"E","m":995,"v":1340},{"s":"E","m":1005,"v":1310},{"s":"E","m":1015,"v":1330},{"s":"E","m":1025,"v":1360},{"s":"E","m":1035,"v":1340},{"s":"E","m":1045,"v":1350},{"s":"E","m":1055,"v":1330},{"s":"E","m":1065,"v":1340},{"s":"E","m":1075,"v":1320},
{"s":"E","m":1085,"v":1290},{"s":"E","m":1095,"v":1310},{"s":"E","m":1105,"v":1300},{"s":"E","m":1115,"v":1270},{"s":"E","m":1125,"v":1290},{"s":"E","m":1135,"v":1320},{"s":"E","m":1145,"v":1300},{"s":"E","m":1155,"v":1270},{"s":"E","m":1165,"v":1290},{"s":"E","m":1175,"v":1280},
{"s":"E","m":1185,"v":1290},{"s":"E","m":1195,"v":1290},{"s":"E","m":1205,"v":1300},

{"s":"F","m":1,"v":300},{"s":"F","m":10,"v":300},{"s":"F","m":15,"v":302},{"s":"F","m":20,"v":312},{"s":"F","m":25,"v":332},{"s":"F","m":30,"v":365},{"s":"F","m":35,"v":410},{"s":"F","m":40,"v":480},{"s":"F","m":45,"v":580},{"s":"F","m":50,"v":700},{"s":"F","m":55,"v":820},{"s":"F","m":60,"v":940},{"s":"F","m":65,"v":1060},{"s":"F","m":70,"v":1170},{"s":"F","m":75,"v":1255},
{"s":"F","m":80,"v":1320},{"s":"F","m":90,"v":1290},{"s":"F","m":100,"v":1310},{"s":"F","m":110,"v":1340},{"s":"F","m":120,"v":1300},{"s":"F","m":130,"v":1280},{"s":"F","m":140,"v":1320},{"s":"F","m":150,"v":1290},{"s":"F","m":160,"v":1250},{"s":"F","m":170,"v":1280},
{"s":"F","m":180,"v":1310},{"s":"F","m":190,"v":1270},{"s":"F","m":200,"v":1300},{"s":"F","m":210,"v":1330},{"s":"F","m":220,"v":1290},{"s":"F","m":230,"v":1270},{"s":"F","m":240,"v":1300},{"s":"F","m":250,"v":1280},{"s":"F","m":260,"v":1240},{"s":"F","m":270,"v":1270},
{"s":"F","m":280,"v":1240},{"s":"F","m":290,"v":1220},{"s":"F","m":300,"v":1250},{"s":"F","m":310,"v":1280},{"s":"F","m":320,"v":1320},{"s":"F","m":330,"v":1290},{"s":"F","m":340,"v":1260},{"s":"F","m":350,"v":1290},{"s":"F","m":360,"v":1270},{"s":"F","m":370,"v":1300},
{"s":"F","m":380,"v":1270},{"s":"F","m":390,"v":1240},{"s":"F","m":400,"v":1280},{"s":"F","m":410,"v":1310},{"s":"F","m":420,"v":1280},{"s":"F","m":430,"v":1250},{"s":"F","m":440,"v":1290},{"s":"F","m":450,"v":1320},{"s":"F","m":460,"v":1290},{"s":"F","m":470,"v":1310},
{"s":"F","m":480,"v":1290},{"s":"F","m":490,"v":1260},{"s":"F","m":500,"v":1230},{"s":"F","m":510,"v":1260},{"s":"F","m":520,"v":1290},{"s":"F","m":530,"v":1250},{"s":"F","m":540,"v":1220},{"s":"F","m":550,"v":1200},{"s":"F","m":560,"v":1240},{"s":"F","m":570,"v":1220},
{"s":"F","m":580,"v":1250},{"s":"F","m":590,"v":1280},{"s":"F","m":600,"v":1250},{"s":"F","m":610,"v":1290},{"s":"F","m":620,"v":1320},{"s":"F","m":630,"v":1280},{"s":"F","m":640,"v":1310},{"s":"F","m":650,"v":1340},{"s":"F","m":660,"v":1300},{"s":"F","m":670,"v":1270},
{"s":"F","m":680,"v":1300},{"s":"F","m":690,"v":1280},{"s":"F","m":700,"v":1310},{"s":"F","m":710,"v":1290},{"s":"F","m":720,"v":1260},{"s":"F","m":730,"v":1240},{"s":"F","m":740,"v":1270},{"s":"F","m":750,"v":1250},{"s":"F","m":760,"v":1280},{"s":"F","m":770,"v":1260},
{"s":"F","m":780,"v":1290},{"s":"F","m":790,"v":1270},{"s":"F","m":800,"v":1250},{"s":"F","m":810,"v":1280},{"s":"F","m":820,"v":1300},{"s":"F","m":830,"v":1270},{"s":"F","m":840,"v":1240},{"s":"F","m":850,"v":1260},{"s":"F","m":860,"v":1230},{"s":"F","m":870,"v":1260},
{"s":"F","m":880,"v":1290},{"s":"F","m":890,"v":1250},{"s":"F","m":900,"v":1220},{"s":"F","m":910,"v":1250},{"s":"F","m":920,"v":1280},{"s":"F","m":930,"v":1240},{"s":"F","m":940,"v":1270},{"s":"F","m":950,"v":1300},{"s":"F","m":960,"v":1260},{"s":"F","m":970,"v":1230},
{"s":"F","m":980,"v":1260},{"s":"F","m":990,"v":1300},{"s":"F","m":1000,"v":1330},{"s":"F","m":1010,"v":1370},{"s":"F","m":1020,"v":1340},{"s":"F","m":1030,"v":1310},{"s":"F","m":1040,"v":1350},{"s":"F","m":1050,"v":1380},{"s":"F","m":1060,"v":1410},{"s":"F","m":1070,"v":1370},
{"s":"F","m":1080,"v":1340},{"s":"F","m":1090,"v":1380},{"s":"F","m":1100,"v":1410},{"s":"F","m":1110,"v":1440},{"s":"F","m":1120,"v":1400},{"s":"F","m":1130,"v":1430},{"s":"F","m":1140,"v":1460},{"s":"F","m":1150,"v":1420},{"s":"F","m":1160,"v":1450},{"s":"F","m":1170,"v":1410},
{"s":"F","m":1180,"v":1440},{"s":"F","m":1190,"v":1400},{"s":"F","m":1200,"v":1370},{"s":"F","m":1210,"v":1400},{"s":"F","m":1214,"v":1420},
{"s":"F","m":85,"v":1300},{"s":"F","m":95,"v":1320},{"s":"F","m":105,"v":1330},{"s":"F","m":115,"v":1310},{"s":"F","m":125,"v":1270},{"s":"F","m":135,"v":1300},{"s":"F","m":145,"v":1300},{"s":"F","m":155,"v":1260},{"s":"F","m":165,"v":1270},{"s":"F","m":175,"v":1300},
{"s":"F","m":185,"v":1280},{"s":"F","m":195,"v":1290},{"s":"F","m":205,"v":1320},{"s":"F","m":215,"v":1300},{"s":"F","m":225,"v":1280},{"s":"F","m":235,"v":1290},{"s":"F","m":245,"v":1270},{"s":"F","m":255,"v":1250},{"s":"F","m":265,"v":1260},{"s":"F","m":275,"v":1250},
{"s":"F","m":285,"v":1230},{"s":"F","m":295,"v":1240},{"s":"F","m":305,"v":1270},{"s":"F","m":315,"v":1310},{"s":"F","m":325,"v":1300},{"s":"F","m":335,"v":1270},{"s":"F","m":345,"v":1280},{"s":"F","m":355,"v":1270},{"s":"F","m":365,"v":1290},{"s":"F","m":375,"v":1280},
{"s":"F","m":385,"v":1250},{"s":"F","m":395,"v":1260},{"s":"F","m":405,"v":1300},{"s":"F","m":415,"v":1290},{"s":"F","m":425,"v":1260},{"s":"F","m":435,"v":1270},{"s":"F","m":445,"v":1310},{"s":"F","m":455,"v":1300},{"s":"F","m":465,"v":1300},{"s":"F","m":475,"v":1300},
{"s":"F","m":485,"v":1270},{"s":"F","m":495,"v":1240},{"s":"F","m":505,"v":1250},{"s":"F","m":515,"v":1280},{"s":"F","m":525,"v":1270},{"s":"F","m":535,"v":1230},{"s":"F","m":545,"v":1210},{"s":"F","m":555,"v":1220},{"s":"F","m":565,"v":1230},{"s":"F","m":575,"v":1240},
{"s":"F","m":585,"v":1270},{"s":"F","m":595,"v":1260},{"s":"F","m":605,"v":1270},{"s":"F","m":615,"v":1310},{"s":"F","m":625,"v":1300},{"s":"F","m":635,"v":1300},{"s":"F","m":645,"v":1330},{"s":"F","m":655,"v":1320},{"s":"F","m":665,"v":1280},{"s":"F","m":675,"v":1290},
{"s":"F","m":685,"v":1290},{"s":"F","m":695,"v":1300},{"s":"F","m":705,"v":1300},{"s":"F","m":715,"v":1270},{"s":"F","m":725,"v":1250},{"s":"F","m":735,"v":1260},{"s":"F","m":745,"v":1260},{"s":"F","m":755,"v":1270},{"s":"F","m":765,"v":1270},{"s":"F","m":775,"v":1280},
{"s":"F","m":785,"v":1280},{"s":"F","m":795,"v":1260},{"s":"F","m":805,"v":1270},{"s":"F","m":815,"v":1290},{"s":"F","m":825,"v":1280},{"s":"F","m":835,"v":1250},{"s":"F","m":845,"v":1250},{"s":"F","m":855,"v":1240},{"s":"F","m":865,"v":1250},{"s":"F","m":875,"v":1280},
{"s":"F","m":885,"v":1270},{"s":"F","m":895,"v":1230},{"s":"F","m":905,"v":1240},{"s":"F","m":915,"v":1270},{"s":"F","m":925,"v":1260},{"s":"F","m":935,"v":1260},{"s":"F","m":945,"v":1290},{"s":"F","m":955,"v":1280},{"s":"F","m":965,"v":1240},{"s":"F","m":975,"v":1250},
{"s":"F","m":985,"v":1280},{"s":"F","m":995,"v":1320},{"s":"F","m":1005,"v":1350},{"s":"F","m":1015,"v":1350},{"s":"F","m":1025,"v":1320},{"s":"F","m":1035,"v":1330},{"s":"F","m":1045,"v":1370},{"s":"F","m":1055,"v":1400},{"s":"F","m":1065,"v":1390},{"s":"F","m":1075,"v":1350},
{"s":"F","m":1085,"v":1360},{"s":"F","m":1095,"v":1400},{"s":"F","m":1105,"v":1430},{"s":"F","m":1115,"v":1420},{"s":"F","m":1125,"v":1420},{"s":"F","m":1135,"v":1450},{"s":"F","m":1145,"v":1440},{"s":"F","m":1155,"v":1440},{"s":"F","m":1165,"v":1430},{"s":"F","m":1175,"v":1430},
{"s":"F","m":1185,"v":1420},{"s":"F","m":1195,"v":1380},{"s":"F","m":1205,"v":1390}
]},
"data": {"name": "pop"},
"layer": [
{
"mark": {"type": "line", "strokeWidth": 0.9, "color": "#111", "clip": true},
"encoding": {
"x": {"field": "m", "type": "quantitative", "scale": {"domain": [-46, 1259], "nice": false, "zero": false},
"axis": {"orient": "bottom", "values": [0, 200, 400, 600, 800, 1000, 1200], "format": "d", "grid": false, "tickSize": 10, "tickColor": "#777", "domainColor": "#777", "labelFontSize": 15, "labelColor": "#222", "labelBaseline": "alphabetic", "labelPadding": 23, "labelFlush": false, "labelOverlap": false, "title": "Months", "titleFontSize": 15, "titleFontWeight": "normal", "titleColor": "#222", "titleBaseline": "alphabetic", "titleY": 69.5}},
"y": {"field": "v", "type": "quantitative", "scale": {"domain": [-60, 1560], "nice": false, "zero": false},
"axis": {"orient": "left", "values": [0, 500, 1000, 1500], "format": "d", "grid": false, "tickSize": 10, "tickColor": "#777", "domainColor": "#777", "labelFontSize": 14.5, "labelColor": "#222", "labelAngle": -90, "labelAlign": "center", "labelBaseline": "alphabetic", "labelPadding": 10.5, "labelFlush": false, "labelOverlap": false, "title": "Herder Family Units", "titleFontSize": 15, "titleFontWeight": "normal", "titleColor": "#222", "titleAngle": -90, "titleBaseline": "alphabetic", "titleX": -58, "titleY": 141.5, "titleAlign": "center"}},
"detail": {"field": "s"}
}
},
{
"mark": {"type": "line", "strokeOpacity": 0, "clip": true},
"encoding": {
"x": {"field": "m", "type": "quantitative", "axis": {"orient": "top", "labels": false, "ticks": false, "grid": false, "domainColor": "#777", "title": null}},
"y": {"field": "v", "type": "quantitative"},
"detail": {"field": "s"}
}
}
],
"resolve": {"axis": {"x": "independent"}}
}
